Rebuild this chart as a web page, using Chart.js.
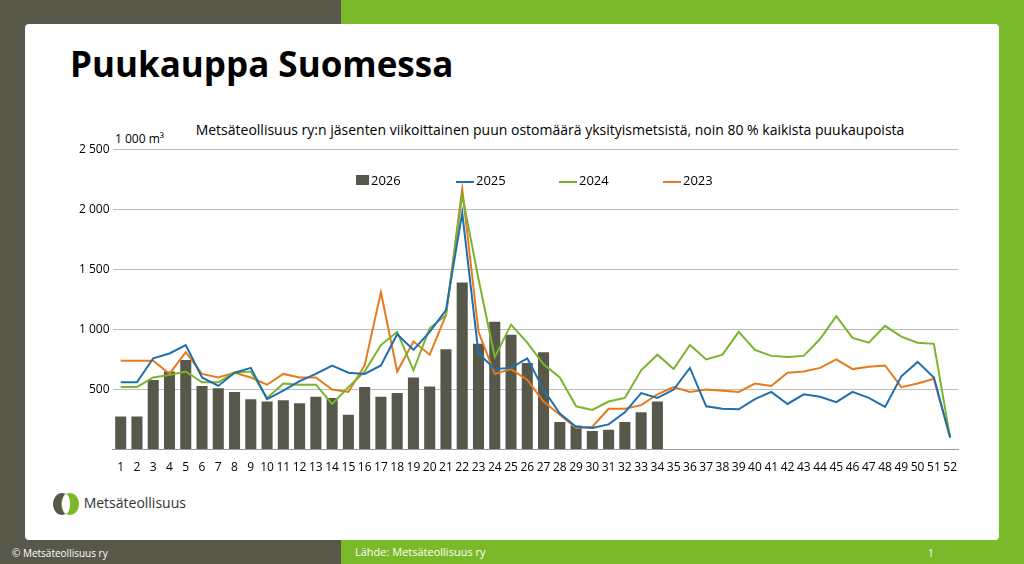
<!DOCTYPE html>
<html><head><meta charset="utf-8">
<script src="https://cdn.jsdelivr.net/npm/chart.js@4"></script>
<style>
body{margin:0;width:1024px;height:564px;position:relative;overflow:hidden;font-family:"Open Sans",sans-serif;
 background:linear-gradient(to right,#58584a 0,#58584a 341px,#7ab929 341px)}
#card{position:absolute;left:25px;top:24px;width:974px;height:516px;background:#fff;border-radius:4px}
h1{position:absolute;left:70px;top:40px;margin:0;font-size:35px;font-weight:700;color:#000}
#sub{position:absolute;left:140px;top:120px;width:820px;text-align:center;font-size:14px}
#unit{position:absolute;left:115px;top:130px;font-size:12px}
#wrap{position:absolute;left:76px;top:139px;width:884px;height:339px}
#leg{position:absolute;top:171px;left:356px;font-size:13px}
#leg span{position:absolute;white-space:nowrap}
#leg i{display:inline-block;margin-right:2px}
.foot{position:absolute;top:546px;color:#fff;font-size:10px}
#logo{position:absolute;left:52px;top:492px;font-size:14px;color:#333}
</style></head><body>
<div id="card"></div>
<h1>Puukauppa Suomessa</h1>
<div id="sub">Metsäteollisuus ry:n jäsenten viikoittainen puun ostomäärä yksityismetsistä, noin 80 % kaikista puukaupoista</div>
<div id="unit">1 000 m³</div>
<div id="wrap"><canvas id="c"></canvas></div>
<div id="leg">
 <span style="left:0"><i style="width:13px;height:10px;background:#58584a"></i>2026</span>
 <span style="left:100px"><i style="width:18px;height:2px;background:#1f6fae;vertical-align:middle"></i>2025</span>
 <span style="left:203px"><i style="width:18px;height:2px;background:#78b42c;vertical-align:middle"></i>2024</span>
 <span style="left:307px"><i style="width:18px;height:2px;background:#e57a1e;vertical-align:middle"></i>2023</span>
</div>
<div id="logo"><svg width="28" height="24" style="vertical-align:middle"><ellipse cx="10" cy="12" rx="9" ry="11" fill="#58584a"/><ellipse cx="18" cy="12" rx="9" ry="11" fill="#7ab929"/><ellipse cx="14" cy="12" rx="4" ry="10" fill="#fff"/></svg> Metsäteollisuus</div>
<div class="foot" style="left:12px">© Metsäteollisuus ry</div>
<div class="foot" style="left:355px;font-size:11px;top:544px">Lähde: Metsäteollisuus ry</div>
<div class="foot" style="left:928px">1</div>
<script>
// Weekly purchase volumes, 1 000 m3
const weeks = Array.from({length:52},(_,i)=>String(i+1));
const data = {
  2026:[275,275,580,650,745,530,510,480,420,400,410,385,440,430,290,520,440,470,600,525,835,1390,880,1065,955,720,810,230,200,155,165,230,310,400],
  2025:[560,560,760,800,870,600,530,640,680,420,490,570,630,700,640,630,700,960,830,980,1160,1970,800,670,680,760,500,300,190,180,210,310,470,430,500,680,360,340,335,420,480,380,460,440,395,480,430,355,610,730,600,100],
  2024:[520,520,600,620,650,560,560,640,650,430,550,540,540,380,520,650,870,980,660,1010,1120,2120,1420,770,1040,890,710,600,360,330,400,430,660,790,670,870,750,790,980,830,780,770,780,920,1110,930,890,1030,940,890,880,100],
  2023:[740,740,740,630,810,630,600,640,600,540,630,600,600,500,480,700,1310,650,900,790,1120,2170,980,630,670,580,400,290,180,190,340,340,370,460,520,480,500,490,480,550,530,640,650,680,750,670,690,700,520,550,590,100]
};
const line = (y,color) => ({type:'line',label:y,data:data[y],borderColor:color,backgroundColor:color,borderWidth:2,pointRadius:0,tension:0,order:1});
new Chart(document.getElementById('c'),{
  data:{labels:weeks,datasets:[
    {type:'bar',label:'2026',data:data[2026],backgroundColor:'#58584a',barPercentage:0.68,categoryPercentage:1,order:2},
    line('2025','#1f6fae'),line('2024','#78b42c'),line('2023','#e57a1e')
  ]},
  options:{responsive:true,maintainAspectRatio:false,animation:false,
    plugins:{legend:{display:false},tooltip:{enabled:false}},
    scales:{
      y:{min:0,max:2500,ticks:{stepSize:500,color:'#000',font:{size:12,family:'Open Sans'},
          callback:v=>v===0?'':String(v).replace(/\B(?=(\d{3})+$)/g,' ')},
        grid:{color:'#bdbdbd',drawTicks:false},border:{display:false}},
      x:{grid:{display:false},ticks:{color:'#000',font:{size:12,family:'Open Sans'},maxRotation:0,autoSkip:false},
        border:{color:'#999'}}
    }}
});
</script>
</body></html>
